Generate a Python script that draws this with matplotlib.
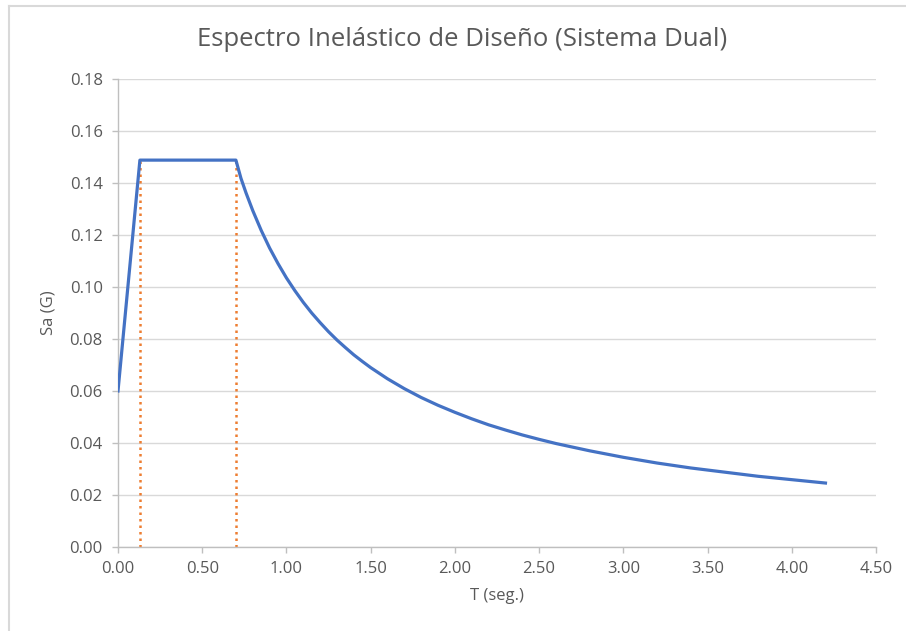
import numpy as np
import matplotlib.pyplot as plt
from matplotlib.lines import Line2D

periodos = [0.00, 0.13, 0.70, 0.73, 0.76, 0.80, 0.85, 0.90, 0.95, 1.00, 1.05,
            1.10, 1.15, 1.20, 1.25, 1.30, 1.35, 1.40, 1.45, 1.50, 1.60, 1.70,
            1.80, 1.90, 2.00, 2.10, 2.20, 2.30, 2.40, 2.50, 2.60, 2.80, 3.00,
            3.20, 3.40, 3.60, 3.80, 4.00, 4.20]
sa = [0.0600, 0.1488, 0.1488, 0.1418, 0.1362, 0.1294, 0.1218, 0.1150, 0.1090,
      0.1035, 0.0986, 0.0941, 0.0900, 0.0863, 0.0828, 0.0796, 0.0767, 0.0739,
      0.0714, 0.0690, 0.0647, 0.0609, 0.0575, 0.0545, 0.0518, 0.0493, 0.0470,
      0.0450, 0.0431, 0.0414, 0.0398, 0.0370, 0.0345, 0.0323, 0.0304, 0.0288,
      0.0272, 0.0259, 0.0246]

# limites de la meseta (lineas punteadas)
t_limites = [0.13, 0.70]
sa_meseta = 0.1488

x_ticks = [0.0, 0.5, 1.0, 1.5, 2.0, 2.5, 3.0, 3.5, 4.0, 4.5]
y_ticks = [0.0, 0.02, 0.04, 0.06, 0.08, 0.10, 0.12, 0.14, 0.16, 0.18]

plt.rcParams['font.family'] = ['Open Sans', 'DejaVu Sans']
gris_txt = '#595959'

fig = plt.figure(figsize=(9.06, 6.31), dpi=100)
ax = fig.add_axes([118 / 906, 1 - 547 / 631, (876 - 118) / 906, (547 - 79) / 631])

ax.plot(periodos, sa, color='#4472C4', lw=2.3, solid_joinstyle='round', zorder=3)
for t in t_limites:
    ax.plot([t, t], [0, sa_meseta], color='#ED7D31', lw=1.8, ls=(0, (1, 1.6)), zorder=2)

ax.set_xlim(0, 4.5)
ax.set_ylim(0, 0.18)
ax.set_xticks(x_ticks)
ax.set_yticks(y_ticks)
ax.set_xticklabels([f'{v:.2f}' for v in x_ticks])
ax.set_yticklabels([f'{v:.2f}' for v in y_ticks])
ax.tick_params(colors='#BFBFBF', labelcolor=gris_txt, labelsize=12, length=4, width=1)
ax.tick_params(axis='x', pad=6)
ax.tick_params(axis='y', pad=7)

ax.grid(axis='y', color='#D9D9D9', lw=1)
ax.set_axisbelow(True)
for s in ['top', 'right']:
    ax.spines[s].set_visible(False)
for s in ['left', 'bottom']:
    ax.spines[s].set_color('#BFBFBF')
    ax.spines[s].set_linewidth(1)

ax.set_xlabel('T (seg.)', color=gris_txt, fontsize=12, labelpad=8)
ax.set_ylabel('Sa (G)', color=gris_txt, fontsize=12, labelpad=9)
fig.text(462 / 906, 1 - 40 / 631, 'Espectro Inelástico de Diseño (Sistema Dual)',
         ha='center', va='center', color=gris_txt, fontsize=18.5)

# marco del area del grafico
fig.add_artist(Line2D([8.5 / 906, 8.5 / 906], [0, 1 - 6 / 631], color='#D9D9D9', lw=1.5))
fig.add_artist(Line2D([8.5 / 906, 1], [1 - 6 / 631, 1 - 6 / 631], color='#D9D9D9', lw=1.5))

fig.savefig('out.png', dpi=100)
